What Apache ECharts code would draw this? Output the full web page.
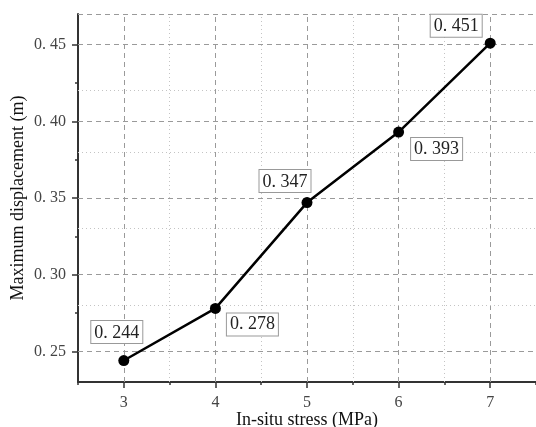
<!DOCTYPE html>
<html>
<head>
<meta charset="utf-8">
<script src="https://cdn.jsdelivr.net/npm/echarts@6/dist/echarts.min.js"></script>
<style>
  html, body { margin: 0; padding: 0; background: #fff; }
  #chart { width: 536px; height: 427px; }
</style>
</head>
<body>
<div id="chart"></div>
<script>
// In-situ stress (MPa) vs maximum displacement (m)
const stress = [3, 4, 5, 6, 7];
const displacement = [0.244, 0.278, 0.347, 0.393, 0.451];

// axis ranges and tick positions
const xRange = [2.5, 7.5];
const yRange = [0.23, 0.47];
const xMajorTicks = [3, 4, 5, 6, 7];
const xMinorTicks = [2.5, 3.5, 4.5, 5.5, 6.5, 7.5];
const yMajorTicks = [0.25, 0.30, 0.35, 0.40, 0.45];
const yMinorTicks = [0.275, 0.325, 0.375, 0.425];

// label placement for each point: [position, dx, dy]
const labelPlacement = [
  ['top', -7, -7],
  ['right', 1, 16],
  ['top', -22, 0],
  ['right', 2, 17],
  ['top', -34, 4]
];

const serif = '"Liberation Serif", "DejaVu Serif", serif';
const fmtNum = v => String(v).replace('.', '. ');

const majorGrid = { color: '#9a9a9a', width: 1, type: [5, 4] };
const minorGrid = { color: '#c4c4c4', width: 1, type: [1, 3] };

const gridLines = [];
xMajorTicks.forEach(v => gridLines.push({ xAxis: v, lineStyle: majorGrid }));
xMinorTicks.filter(v => v > xRange[0] && v < xRange[1])
  .forEach(v => gridLines.push({ xAxis: v, lineStyle: minorGrid }));
yMajorTicks.forEach(v => gridLines.push({ yAxis: v, lineStyle: majorGrid }));
yMinorTicks.forEach(v => gridLines.push({ yAxis: v, lineStyle: minorGrid }));
gridLines.push({ yAxis: yRange[1], lineStyle: majorGrid });

const axisLine = { show: true, lineStyle: { color: '#333', width: 2 } };

const chart = echarts.init(document.getElementById('chart'), null, { renderer: 'canvas' });
chart.setOption({
  animation: false,
  backgroundColor: '#fff',
  grid: { left: 78, right: 0, top: 14, bottom: 45, containLabel: false, outerBoundsMode: 'none' },
  xAxis: [
    {
      type: 'value', min: xRange[0], max: xRange[1],
      axisLine: axisLine,
      axisTick: { show: true, customValues: xMajorTicks, length: 6, lineStyle: { color: '#333', width: 1.5 } },
      axisLabel: { customValues: xMajorTicks, color: '#444', fontFamily: serif, fontSize: 16, margin: 13 },
      splitLine: { show: false },
      name: 'In-situ stress (MPa)', nameLocation: 'middle', nameGap: 29, nameMoveOverlap: false,
      nameTextStyle: { color: '#111', fontFamily: serif, fontSize: 18, verticalAlign: 'top' }
    },
    {
      type: 'value', min: xRange[0], max: xRange[1], position: 'bottom',
      axisLine: { show: false },
      axisTick: { show: true, customValues: xMinorTicks, length: 3, lineStyle: { color: '#333', width: 1.5 } },
      axisLabel: { show: false },
      splitLine: { show: false }
    }
  ],
  yAxis: [
    {
      type: 'value', min: yRange[0], max: yRange[1],
      axisLine: axisLine,
      axisTick: { show: true, customValues: yMajorTicks, length: 6, lineStyle: { color: '#333', width: 1.5 } },
      axisLabel: { customValues: yMajorTicks, color: '#444', fontFamily: serif, fontSize: 16, margin: 12,
        formatter: v => fmtNum(v.toFixed(2)) },
      splitLine: { show: false },
      name: 'Maximum displacement (m)', nameLocation: 'middle', nameGap: 51, nameMoveOverlap: false,
      nameTextStyle: { color: '#111', fontFamily: serif, fontSize: 18, verticalAlign: 'bottom' }
    },
    {
      type: 'value', min: yRange[0], max: yRange[1], position: 'left',
      axisLine: { show: false },
      axisTick: { show: true, customValues: yMinorTicks, length: 3, lineStyle: { color: '#333', width: 1.5 } },
      axisLabel: { show: false },
      splitLine: { show: false }
    }
  ],
  series: [
    {
      type: 'line', data: [], silent: true, z: 1,
      markLine: { silent: true, symbol: 'none', label: { show: false }, animation: false, data: gridLines }
    },
    {
      type: 'line', z: 5,
      data: stress.map((x, i) => ({
        value: [x, displacement[i]],
        label: {
          position: labelPlacement[i][0],
          offset: [labelPlacement[i][1], labelPlacement[i][2]]
        }
      })),
      symbol: 'circle', symbolSize: 11,
      itemStyle: { color: '#000' },
      lineStyle: { color: '#000', width: 2.5 },
      label: {
        show: true,
        formatter: p => fmtNum(p.value[1].toFixed(3)),
        fontFamily: serif, fontSize: 18, color: '#222',
        backgroundColor: '#fff', borderColor: '#999', borderWidth: 1,
        padding: [3, 3, 1, 3]
      }
    }
  ]
});
</script>
</body>
</html>
